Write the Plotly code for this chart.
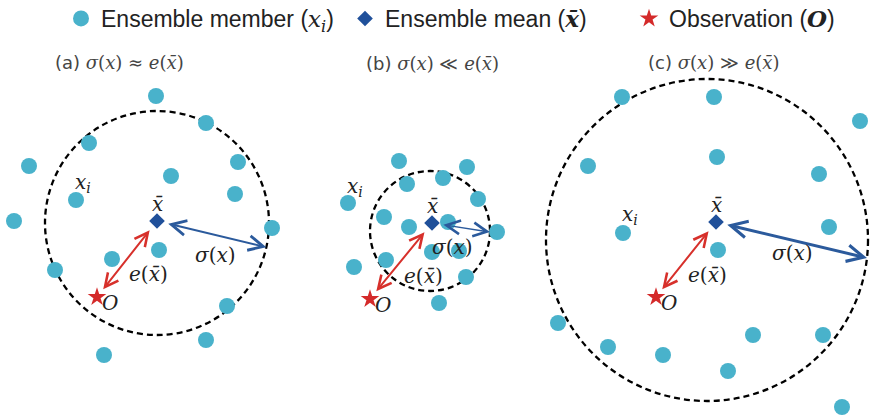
import math
import plotly.graph_objects as go

# ---- data (diagram coordinates: pixels, y downward) ----
a_member_x = [156, 206, 89, 29, 238, 171, 235, 76, 14, 272, 159, 112, 55, 227, 206, 104]
a_member_y = [96, 123, 143, 166, 162, 176, 194, 200, 221, 228, 250, 259, 270, 306, 340, 355]
b_member_x = [399, 467, 407, 443, 348, 478, 384, 409, 448, 497, 432, 459, 354, 386, 466, 439]
b_member_y = [161, 167, 184, 178, 203, 199, 217, 227, 222, 232, 252, 251, 267, 260, 277, 303]
c_member_x = [622, 714, 860, 588, 717, 819, 829, 623, 718, 558, 608, 663, 753, 823, 728, 842]
c_member_y = [97, 97, 121, 166, 157, 174, 227, 233, 250, 323, 347, 355, 335, 335, 371, 407]

mean_x = [157, 432, 716]
mean_y = [221, 223, 222]
obs_x = [97, 370, 656]
obs_y = [297, 299, 297]

circle_cx = [157, 430, 707]
circle_cy = [223, 231, 240]
circle_r = [112, 60, 161]
sigma_angle_deg = [12.5, 1.0, 6.4]
sigma_width = [2, 1.5, 3]

titles = ["(a)", "(b)", "(c)"]
relations = ["≈", "≪", "≫"]
title_x = [119, 432, 714]
title_y = [62, 63, 62]

xi_label_x = [83, 355, 630]
xi_label_y = [183, 187, 215]
sig_label_x = [215, 452, 792]
sig_label_y = [255, 247, 253]

members = [(a_member_x, a_member_y), (b_member_x, b_member_y), (c_member_x, c_member_y)]

W, H = 871, 416
MEMBER_C = "#49B2CB"
MEAN_C = "#20509A"
OBS_C = "#D42A2A"
RED_ARROW = "#D7302B"
BLUE_ARROW = "#2B5A9C"
SERIF = "DejaVu Serif"
XBAR = "x\u0304"

fig = go.Figure()

for i, (mx, my) in enumerate(members):
    fig.add_trace(go.Scatter(
        x=mx, y=my, mode="markers",
        marker=dict(color=MEMBER_C, size=16, line=dict(width=0)),
        name="Ensemble member (<span style='font-family:DejaVu Serif'><i>x<sub>i</sub></i></span>)",
        legendgroup="m", showlegend=(i == 0), hoverinfo="skip"))

fig.add_trace(go.Scatter(
    x=mean_x, y=mean_y, mode="markers",
    marker=dict(color=MEAN_C, symbol="diamond", size=12, line=dict(width=0)),
    name="Ensemble mean (<span style='font-family:DejaVu Serif'><b><i>" + XBAR + "</i></b></span>)",
    legendgroup="mean", hoverinfo="skip"))

fig.add_trace(go.Scatter(
    x=obs_x, y=obs_y, mode="markers",
    marker=dict(color=OBS_C, symbol="star", size=14, line=dict(width=0)),
    name="Observation (<span style='font-family:DejaVu Serif'><b><i>O</i></b></span>)",
    legendgroup="obs", hoverinfo="skip"))

shapes = []
annotations = []
for i in range(3):
    cx, cy, r = circle_cx[i], circle_cy[i], circle_r[i]
    shapes.append(dict(type="circle", xref="x", yref="y",
                       x0=cx - r, x1=cx + r, y0=cy - r, y1=cy + r,
                       line=dict(color="black", width=2.3, dash="6px,4px"),
                       layer="below"))
    # sigma arrow: mean -> circle edge
    ang = math.radians(sigma_angle_deg[i])
    tip_x = cx + r * math.cos(ang)
    tip_y = cy + r * math.sin(ang)
    sw = sigma_width[i]
    annotations.append(dict(
        x=tip_x, y=tip_y, ax=mean_x[i], ay=mean_y[i], xref="x", yref="y",
        axref="x", ayref="y", text="", showarrow=True,
        arrowside="end+start", arrowhead=5, startarrowhead=5,
        arrowsize=2.2 / sw + 0.35, startarrowsize=2.2 / sw + 0.35,
        arrowwidth=sw, arrowcolor=BLUE_ARROW,
        standoff=0, startstandoff=10))
    # error arrow: mean -> observation
    annotations.append(dict(
        x=obs_x[i], y=obs_y[i], ax=mean_x[i], ay=mean_y[i], xref="x", yref="y",
        axref="x", ayref="y", text="", showarrow=True,
        arrowside="end+start", arrowhead=5, startarrowhead=5,
        arrowsize=1.3, startarrowsize=1.3,
        arrowwidth=2, arrowcolor=RED_ARROW,
        standoff=10, startstandoff=10))
    lab_font = dict(family=SERIF, size=20, color="#222222")
    annotations += [
        dict(x=mean_x[i], y=mean_y[i] - 17, text="<i>" + XBAR + "</i>", showarrow=False,
             xref="x", yref="y", font=lab_font),
        dict(x=mean_x[i] - 9, y=mean_y[i] + 53, text="<i>e</i>(<i>" + XBAR + "</i>)",
             showarrow=False, xref="x", yref="y", font=lab_font),
        dict(x=obs_x[i] + 13, y=obs_y[i] + 6, text="<i>O</i>", showarrow=False,
             xref="x", yref="y", font=lab_font),
        dict(x=xi_label_x[i], y=xi_label_y[i], text="<i>x</i><sub><i>i</i></sub>",
             showarrow=False, xref="x", yref="y", font=lab_font),
        dict(x=sig_label_x[i], y=sig_label_y[i], text="<i>σ</i>(<i>x</i>)",
             showarrow=False, xref="x", yref="y", font=lab_font),
        dict(x=title_x[i], y=title_y[i],
             text="<span style='font-family:DejaVu Sans'>" + titles[i] + "</span> "
                  "<i>σ</i>(<i>x</i>) " + relations[i] + " <i>e</i>(<i>" + XBAR + "</i>)",
             showarrow=False, xref="x", yref="y",
             font=dict(family=SERIF, size=18, color="#444444")),
    ]

fig.update_layout(
    width=W, height=H,
    margin=dict(l=0, r=0, t=0, b=0, pad=0, autoexpand=False),
    paper_bgcolor="white", plot_bgcolor="white",
    xaxis=dict(range=[0, W], visible=False, fixedrange=True),
    yaxis=dict(range=[H, 0], visible=False, fixedrange=True),
    shapes=shapes, annotations=annotations,
    showlegend=True,
    legend=dict(orientation="h", x=61 / W, xanchor="left", y=1.0 + 3 / H, yanchor="top",
                font=dict(family="Liberation Sans", size=23, color="#222222"),
                entrywidth=239, entrywidthmode="pixels",
                bgcolor="rgba(0,0,0,0)", borderwidth=0),
)

fig.write_html("out.html",
               config={"displayModeBar": False, "staticPlot": True},
               post_script="document.body.style.margin='0';document.body.style.overflow='hidden';")
